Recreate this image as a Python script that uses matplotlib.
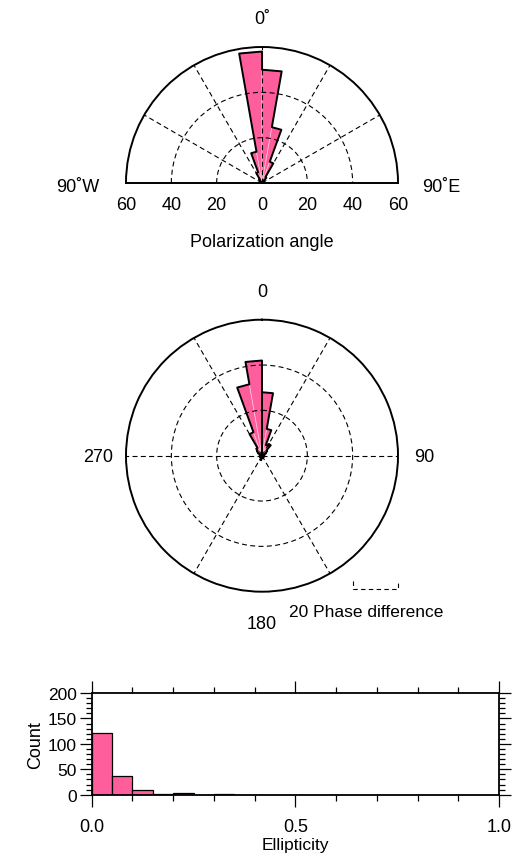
import numpy as np
import matplotlib
matplotlib.use('Agg')
import matplotlib.pyplot as plt
from matplotlib.ticker import MultipleLocator

plt.rcParams['font.family'] = ['Liberation Sans', 'DejaVu Sans']

PINK = '#ff5e9c'
W, H = 514, 862

# polarization angle: 10 degree bins from 90W (-90) to 90E (+90)
pol_edges = np.arange(-90, 91, 10)
pol_counts = [0, 0, 0, 1, 1, 2, 5, 14, 58, 50, 25, 10, 3, 1, 1, 0, 0, 0]
pol_rlabels = ['60', '40', '20', '0', '20', '40', '60']
pol_rvals = [-60, -40, -20, 0, 20, 40, 60]

# phase difference: 10 degree bins, clockwise from 0 at top
phase_edges = np.arange(0, 361, 10)
phase_counts = [28, 12, 5, 6, 3, 2, 1, 1, 0, 1, 0, 0,
                1, 0, 0, 1, 0, 1, 1, 2, 1, 0, 1, 0,
                1, 0, 1, 1, 1, 1, 2, 3, 4, 11, 32, 42]

# ellipticity histogram, bin width 0.05
ell_edges = np.arange(0, 1.0001, 0.05)
ell_counts = [121, 37, 9, 1, 3, 0, 1, 0, 0, 0,
              0, 0, 0, 0, 0, 0, 0, 0, 0, 0]


def fx(x):
    return x / W


def fy(y):
    return 1 - y / H


def rose(ax, edges, counts):
    e = np.deg2rad(edges)
    c = np.asarray(counts, dtype=float)
    ax.bar((e[:-1] + e[1:]) / 2, c, width=np.diff(e), color=PINK,
           edgecolor='#ffc2db', linewidth=0.5, zorder=1)
    th = np.concatenate([[e[0]], np.repeat(e, 2)[1:-1], [e[-1]]])
    r = np.concatenate([[0], np.repeat(c, 2), [0]])
    ax.plot(th, r, color='k', lw=1.4, zorder=4)


def polar_style(ax, tgrid):
    ax.set_theta_zero_location('N')
    ax.set_theta_direction(-1)
    ax.set_ylim(0, 60)
    ax.set_rgrids([20, 40])
    ax.set_thetagrids(tgrid)
    ax.set_xticklabels([])
    ax.set_yticklabels([])
    ax.set_axisbelow(False)
    ax.grid(True, color='k', linestyle=(0, (4.5, 3)), linewidth=0.8)
    for s in ax.spines.values():
        s.set_linewidth(1.4)


fig = plt.figure(figsize=(W / 100, H / 100), dpi=100)

# top: polarization angle (half polar is centred in a square box)
ax1 = fig.add_axes([fx(126), fy(252), 272 / W, 272 / H], projection='polar')
ax1.set_thetamin(-90)
ax1.set_thetamax(90)
polar_style(ax1, [-60, -30, 0, 30, 60])
rose(ax1, pol_edges, pol_counts)
for v, lab in zip(pol_rvals, pol_rlabels):
    ax1.annotate(lab, xy=(np.deg2rad(90 if v >= 0 else -90), abs(v)),
                 xytext=(0, -18.7), textcoords='offset points',
                 ha='center', va='baseline', fontsize=13)
fig.text(fx(262), fy(24.3), '0˚', ha='center', va='baseline', fontsize=13)
fig.text(fx(78), fy(192.3), '90˚W', ha='center', va='baseline', fontsize=13)
fig.text(fx(441), fy(192.3), '90˚E', ha='center', va='baseline', fontsize=13)
fig.text(fx(262), fy(247.3), 'Polarization angle', ha='center',
         va='baseline', fontsize=13)

# middle: phase difference
ax2 = fig.add_axes([fx(126), fy(592.7), 272 / W, 272 / H], projection='polar')
polar_style(ax2, [30, 90, 150, 210, 270, 330])
rose(ax2, phase_edges, phase_counts)
fig.text(fx(262), fy(296.7), '0', ha='center', va='baseline', fontsize=13)
fig.text(fx(424), fy(462.5), '90', ha='center', va='baseline', fontsize=13)
fig.text(fx(98), fy(462.5), '270', ha='center', va='baseline', fontsize=13)
fig.text(fx(262), fy(629), '180', ha='center', va='baseline', fontsize=13)
fig.text(fx(289), fy(616.7), '20 Phase difference', ha='left',
         va='baseline', fontsize=12.5)
# radial scale bracket: 20 units of the 60 radius
x0 = 1 - 20 / 120
ax2.plot([x0, x0, 1, 1], [0.039, 0.01, 0.01, 0.039], transform=ax2.transAxes,
         color='k', lw=0.8, linestyle=(0, (4, 3)), clip_on=False)

# bottom: ellipticity histogram
ax3 = fig.add_axes([fx(91.7), fy(795.7), 407.3 / W, 101.7 / H])
ax3.bar(ell_edges[:-1], ell_counts, width=np.diff(ell_edges), align='edge',
        color=PINK, edgecolor='k', linewidth=0.9)
ax3.set_xlim(0, 1)
ax3.set_ylim(0, 200)
ax3.set_xticks([0, 0.5, 1.0])
ax3.set_xticklabels(['0.0', '0.5', '1.0'])
ax3.set_yticks([0, 50, 100, 150, 200])
ax3.xaxis.set_minor_locator(MultipleLocator(0.1))
ax3.yaxis.set_minor_locator(MultipleLocator(10))
ax3.tick_params(which='both', direction='out', top=True, right=True, width=0.9)
ax3.tick_params(which='major', length=8.5)
ax3.tick_params(which='minor', length=4.5)
ax3.tick_params(axis='x', which='major', labelsize=13, pad=8)
ax3.tick_params(axis='y', which='major', labelsize=12.5, pad=2)
for s in ax3.spines.values():
    s.set_linewidth(1.3)
ax3.set_xlabel('Ellipticity', fontsize=12.5, labelpad=2)
ax3.set_ylabel('Count', fontsize=13, labelpad=3)

fig.savefig('out.png', dpi=100)
